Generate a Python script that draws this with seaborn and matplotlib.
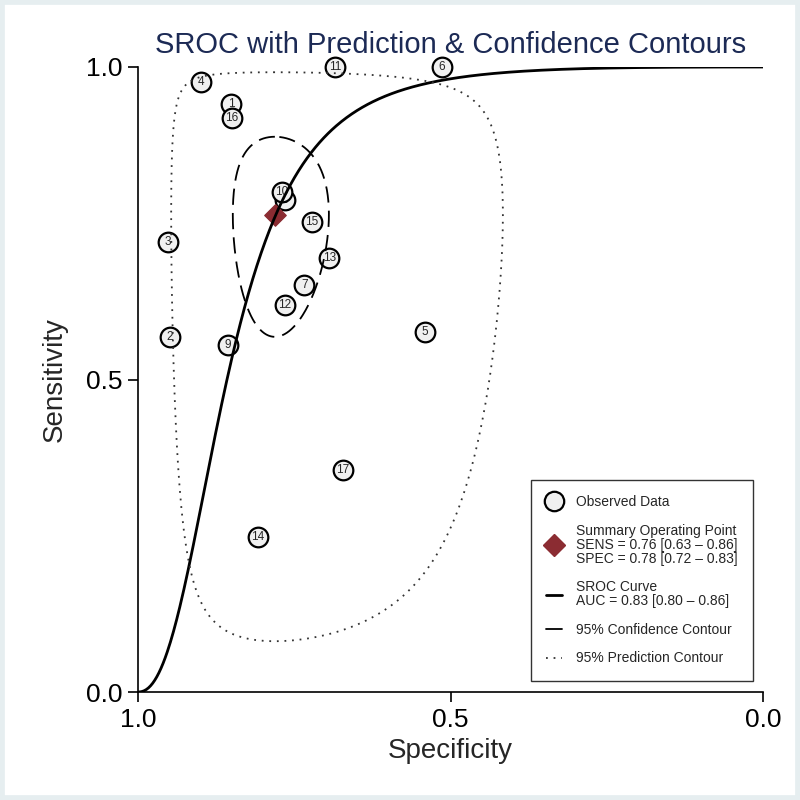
import numpy as np
import pandas as pd
import matplotlib
matplotlib.use("Agg")
import matplotlib.pyplot as plt
import seaborn as sns
from matplotlib.lines import Line2D
from matplotlib.patches import Rectangle

# observed studies
study_id = [1, 2, 3, 4, 5, 6, 7, 8, 9, 10, 11, 12, 13, 14, 15, 16, 17]
specificity = [0.851, 0.949, 0.952, 0.899, 0.541, 0.514, 0.734, 0.765, 0.856,
               0.770, 0.685, 0.765, 0.694, 0.808, 0.722, 0.850, 0.672]
sensitivity = [0.941, 0.568, 0.720, 0.976, 0.576, 1.000, 0.651, 0.787, 0.555,
               0.800, 1.000, 0.619, 0.694, 0.248, 0.752, 0.918, 0.355]

# summary operating point
summary_sens = 0.764
summary_spec = 0.781

# SROC model: logit(sens) = alpha + beta * logit(1 - spec)
sroc_alpha = 3.95
sroc_beta = 2.2

# contour half-widths in logit space (sens, spec)
conf_half = (0.90, 0.45)
pred_half = (3.60, 1.61)

legend_labels = [
    "Observed Data",
    "Summary Operating Point\nSENS = 0.76 [0.63 \u2013 0.86]\nSPEC = 0.78 [0.72 \u2013 0.83]",
    "SROC Curve\nAUC = 0.83 [0.80 \u2013 0.86]",
    "95% Confidence Contour",
    "95% Prediction Contour",
]


def logit(p):
    return np.log(p / (1 - p))


def expit(x):
    return 1 / (1 + np.exp(-x))


def contour(half):
    t = np.linspace(0, 2 * np.pi, 400)
    ls = logit(summary_sens) + half[0] * np.cos(t)
    lp = logit(summary_spec) + half[1] * np.sin(t)
    return pd.DataFrame({"spec": expit(lp), "sens": expit(ls)})


sns.set_style("white")
plt.rcParams["font.family"] = ["Liberation Sans", "DejaVu Sans"]

fig = plt.figure(figsize=(8, 8), dpi=100)
fig.patches.append(Rectangle((0, 0), 1, 1, transform=fig.transFigure,
                             facecolor="none", edgecolor="#e6eef0", linewidth=7))
ax = fig.add_axes([0.1725, 0.135, 0.78125, 0.78125])

df = pd.DataFrame({"id": study_id, "spec": specificity, "sens": sensitivity})

# one point at a time, in study order, so 10 covers 8 as in the original
for k, r in df.iterrows():
    sns.scatterplot(x=[r["spec"]], y=[r["sens"]], s=200, color="#f0f0f0",
                    edgecolor="black", linewidth=1.6, ax=ax, zorder=3 + 0.01 * k,
                    legend=False, clip_on=False)
    ax.text(r["spec"], r["sens"], str(int(r["id"])), ha="center", va="center",
            fontsize=8.5, zorder=3.005 + 0.01 * k, clip_on=False)

sns.scatterplot(x=[summary_spec], y=[summary_sens], marker="D", s=120,
                color="#8b2c32", edgecolor="#8b2c32", ax=ax, zorder=5, legend=False)

fpr = np.linspace(0.0001, 0.9999, 600)
sroc = pd.DataFrame({"spec": 1 - fpr, "sens": expit(sroc_alpha + sroc_beta * logit(fpr))})
sns.lineplot(data=sroc, x="spec", y="sens", sort=False, estimator=None,
             color="black", linewidth=2, ax=ax, zorder=6)

conf = contour(conf_half)
ax.plot(conf["spec"], conf["sens"], color="black", linewidth=1.3,
        dashes=(9, 4.5), zorder=6)
pred = contour(pred_half)
ax.plot(pred["spec"], pred["sens"], color="#333333", linewidth=1.3,
        dashes=(1, 3.2), zorder=6)

ax.set_xlim(1, 0)
ax.set_ylim(0, 1)
ax.set_xticks([1.0, 0.5, 0.0])
ax.set_yticks([0.0, 0.5, 1.0])
ax.set_xticklabels(["1.0", "0.5", "0.0"])
ax.set_yticklabels(["0.0", "0.5", "1.0"])
ax.tick_params(axis="both", direction="out", length=7.5, width=1.2,
               labelsize=19, colors="black", left=True, bottom=True, pad=4)
for side in ["top", "right"]:
    ax.spines[side].set_visible(False)
for side in ["left", "bottom"]:
    ax.spines[side].set_color("black")
    ax.spines[side].set_linewidth(1.2)

ax.set_xlabel("Specificity", fontsize=20, labelpad=4)
ax.set_ylabel("Sensitivity", fontsize=20, labelpad=13)
ax.set_title("SROC with Prediction & Confidence Contours", fontsize=21,
             color="#1c2a55", pad=10)

handles = [
    Line2D([], [], marker="o", linestyle="none", markersize=14,
           markerfacecolor="#f0f0f0", markeredgecolor="black", markeredgewidth=1.6),
    Line2D([], [], marker="D", linestyle="none", markersize=11,
           markerfacecolor="#8b2c32", markeredgecolor="#8b2c32"),
    Line2D([], [], color="black", linewidth=2),
    Line2D([], [], color="black", linewidth=1.3),
    Line2D([], [], color="#333333", linewidth=1.3, dashes=(1, 3.2)),
]
leg = ax.legend(handles, legend_labels, loc="lower right",
                bbox_to_anchor=(0.984, 0.018), borderaxespad=0, frameon=True,
                fancybox=False, edgecolor="black", fontsize=10, handlelength=1.1,
                labelspacing=1.05, borderpad=1.1, handletextpad=1.05)
leg.get_frame().set_linewidth(1.0)
for t in leg.get_texts():
    t.set_linespacing(1.0)

fig.savefig("out.png", dpi=100, facecolor="white")
